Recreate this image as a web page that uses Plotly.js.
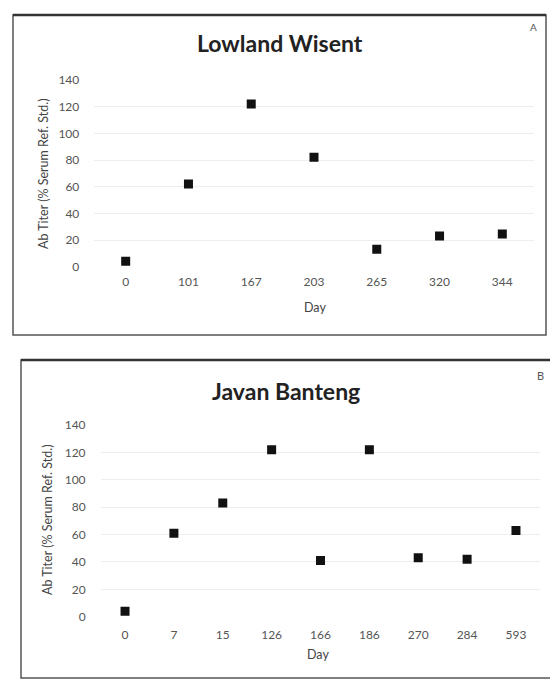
<!DOCTYPE html>
<html>
<head>
<meta charset="utf-8">
<script src="https://cdn.plot.ly/plotly-3.0.1.min.js"></script>
<style>html,body{margin:0;padding:0;background:#fff;}#chart{width:550px;height:679px;}</style>
</head>
<body>
<div id="chart"></div>
<script>
// ---- data ----
var wisentTitle = 'Lowland Wisent';
var wisentDays = ['0', '101', '167', '203', '265', '320', '344'];
var wisentTiter = [4, 62, 122, 82, 13, 23, 24.5];

var bantengTitle = 'Javan Banteng';
var bantengDays = ['0', '7', '15', '126', '166', '186', '270', '284', '593'];
var bantengTiter = [4, 61, 83, 122, 41, 122, 43, 42, 63];

var yTicks = [0, 20, 40, 60, 80, 100, 120, 140];
var yTitle = 'Ab Titer (% Serum Ref. Std.)';
var xTitle = 'Day';

// ---- layout helpers ----
var W = 550, H = 679;
function px(x) { return x / W; }
function py(y) { return 1 - y / H; }

var tickFont = {family: 'Lato, "Open Sans", sans-serif', size: 12, color: '#555'};
var textFont = {family: 'Lato, "Open Sans", sans-serif', size: 12.5, color: '#444'};
var titleFont = {family: 'Lato, "Open Sans", sans-serif', size: 23, color: '#222'};

var marker = {symbol: 'square', size: 9, color: '#111'};

var traces = [
  {x: wisentDays, y: wisentTiter, type: 'scatter', mode: 'markers', marker: marker, xaxis: 'x', yaxis: 'y', hoverinfo: 'x+y'},
  {x: bantengDays, y: bantengTiter, type: 'scatter', mode: 'markers', marker: marker, xaxis: 'x2', yaxis: 'y2', hoverinfo: 'x+y'}
];

function xAxis(n, domain, anchor, standoff) {
  return {
    type: 'category', range: [-0.5, n - 0.5], domain: domain, anchor: anchor,
    showline: false, showgrid: false, zeroline: false, ticks: '',
    tickfont: tickFont, ticklabelstandoff: standoff, fixedrange: true
  };
}
function yAxis(domain, anchor) {
  return {
    range: [0, 140], domain: domain, anchor: anchor, tickvals: yTicks,
    showline: false, showgrid: true, gridcolor: '#eeeeee', gridwidth: 1,
    zeroline: false, ticks: '', tickfont: tickFont, ticklabelstandoff: 14, fixedrange: true
  };
}

var layout = {
  width: W, height: H,
  margin: {l: 0, r: 0, t: 0, b: 0},
  paper_bgcolor: '#fff', plot_bgcolor: 'rgba(0,0,0,0)',
  showlegend: false,
  xaxis: xAxis(wisentDays.length, [px(94.3), px(533.7)], 'y', 6),
  yaxis: yAxis([py(266.7), py(80)], 'x'),
  xaxis2: xAxis(bantengDays.length, [px(100.6), px(540.4)], 'y2', 9),
  yaxis2: yAxis([py(616.7), py(425)], 'x2'),
  shapes: [
    {type: 'rect', xref: 'paper', yref: 'paper', x0: px(13), x1: px(546), y0: py(335), y1: py(15),
     line: {color: '#555', width: 1.5}},
    {type: 'line', xref: 'paper', yref: 'paper', x0: px(13), x1: px(546), y0: py(15), y1: py(15),
     line: {color: '#333', width: 2.5}},
    {type: 'rect', xref: 'paper', yref: 'paper', x0: px(21), x1: px(552), y0: py(678), y1: py(360),
     line: {color: '#555', width: 1.5}},
    {type: 'line', xref: 'paper', yref: 'paper', x0: px(21), x1: px(550), y0: py(360), y1: py(360),
     line: {color: '#333', width: 2.5}}
  ],
  annotations: [
    {text: '<b>' + wisentTitle + '</b>', xref: 'paper', yref: 'paper', x: px(280), y: py(43),
     xanchor: 'center', yanchor: 'middle', showarrow: false, font: titleFont},
    {text: 'A', xref: 'paper', yref: 'paper', x: px(533), y: py(27), xanchor: 'center', yanchor: 'middle',
     showarrow: false, font: {family: 'Lato, sans-serif', size: 10, color: '#555'}},
    {text: yTitle, xref: 'paper', yref: 'paper', x: px(44), y: py(174), textangle: -90,
     xanchor: 'center', yanchor: 'middle', showarrow: false, font: textFont},
    {text: xTitle, xref: 'paper', yref: 'paper', x: px(315), y: py(308), xanchor: 'center', yanchor: 'middle',
     showarrow: false, font: textFont},

    {text: '<b>' + bantengTitle + '</b>', xref: 'paper', yref: 'paper', x: px(286), y: py(391),
     xanchor: 'center', yanchor: 'middle', showarrow: false, font: titleFont},
    {text: 'B', xref: 'paper', yref: 'paper', x: px(540), y: py(375), xanchor: 'center', yanchor: 'middle',
     showarrow: false, font: {family: 'Lato, sans-serif', size: 11, color: '#555'}},
    {text: yTitle, xref: 'paper', yref: 'paper', x: px(47), y: py(520), textangle: -90,
     xanchor: 'center', yanchor: 'middle', showarrow: false, font: textFont},
    {text: xTitle, xref: 'paper', yref: 'paper', x: px(318), y: py(654), xanchor: 'center', yanchor: 'middle',
     showarrow: false, font: textFont}
  ]
};

Plotly.newPlot('chart', traces, layout, {displayModeBar: false, staticPlot: true});
</script>
</body>
</html>
